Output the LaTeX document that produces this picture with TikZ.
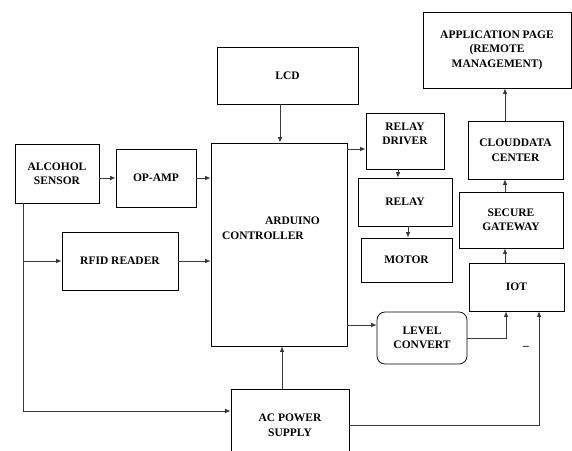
\documentclass[tikz,border=0pt]{standalone}
\usepackage{fontspec}
\setmainfont{Liberation Serif}
\usetikzlibrary{arrows.meta}
\tikzset{
  blk/.style={draw=black, line width=0.75pt, inner sep=0pt, align=center,
    font=\bfseries\fontsize{11.5}{14.5}\selectfont},
  arr/.style={-{Latex[length=5.5pt,width=4.5pt]}, line width=0.75pt, draw=black!78},
  ln/.style={line width=0.75pt, draw=black!78}
}
\begin{document}
\begin{tikzpicture}[x=1pt,y=-1pt]
\useasboundingbox (0,0) rectangle (572,450);
\clip (0,0) rectangle (572,450);
\fill[white] (0,0) rectangle (572,450);
% blocks
\node[blk, minimum width=84pt, minimum height=59pt] (alc) at (57,173.5) {ALCOHOL\\SENSOR};
\node[blk, minimum width=80pt, minimum height=58pt] (opamp) at (156,178) {OP-AMP};
\node[blk, minimum width=116pt, minimum height=58pt] (rfid) at (120,261) {RFID READER};
\node[blk, minimum width=136pt, minimum height=203pt, text width=114pt, align=left, text depth=47pt] (ard) at (279,244.5) {\hspace*{43pt}ARDUINO\\CONTROLLER};
\node[blk, minimum width=141pt, minimum height=57pt] (lcd) at (287.5,75.5) {LCD};
\node[blk, minimum width=78pt, minimum height=56pt, text depth=15pt] (rdrv) at (405,141) {RELAY\\DRIVER};
\node[blk, minimum width=94pt, minimum height=48pt] (relay) at (405,202) {RELAY};
\node[blk, minimum width=91pt, minimum height=44pt] (motor) at (406.5,260) {MOTOR};
\node[blk, rounded corners=8pt, minimum width=90pt, minimum height=52pt] (lvl) at (422,338) {LEVEL\\CONVERT};
\node[blk, minimum width=95pt, minimum height=48pt] (iot) at (516.5,287) {IOT};
\node[blk, minimum width=104pt, minimum height=56pt] (gw) at (511,220) {SECURE\\GATEWAY};
\node[blk, minimum width=95pt, minimum height=58pt] (cloud) at (515.5,150) {CLOUDDATA\\CENTER};
\node[blk, minimum width=148pt, minimum height=76pt] (app) at (497,50) {APPLICATION PAGE\\(REMOTE\\MANAGEMENT)};
\node[blk, minimum width=118pt, minimum height=72pt] (ac) at (290,425) {AC POWER\\SUPPLY};
\node[font=\bfseries\fontsize{11.5}{14.5}\selectfont, inner sep=0pt] (dash) at (526,348) {--};
% helper coordinates
\coordinate (lj) at (23,261);
\coordinate (lc) at (23,411);
\coordinate (y149) at (0,149);
\coordinate (y325) at (0,325);
\coordinate (x280) at (280,0);
\coordinate (x282) at (282,0);
\coordinate (x398) at (398,0);
\coordinate (x408) at (408,0);
\coordinate (x505) at (505,0);
\coordinate (pl) at (506,0);
\coordinate (pa) at (539,0);
% connectors
\draw[arr] (alc.east |- opamp.west) -- (opamp.west);
\draw[arr] (opamp.east) -- (opamp.east -| ard.west);
\draw[ln] (alc.south -| lj) -- (lc);
\draw[arr] (lc) -- (lc -| ac.west);
\draw[arr] (lj) -- (lj -| rfid.west);
\draw[arr] (rfid.east) -- (rfid.east -| ard.west);
\draw[arr] (lcd.south -| x280) -- (ard.north -| x280);
\draw[arr] (ac.north -| x282) -- (ard.south -| x282);
\draw[arr] (ard.east |- y149) -- (rdrv.west |- y149);
\draw[arr] (rdrv.south -| x398) -- (relay.north -| x398);
\draw[arr] (relay.south -| x408) -- (motor.north -| x408);
\draw[arr] (ard.east |- y325) -- (lvl.west |- y325);
\draw[arr] (lvl.east) -| (pl |- iot.south);
\draw[arr] (ac.east) -| (pa |- iot.south);
\draw[arr] (iot.north -| x505) -- (gw.south -| x505);
\draw[arr] (gw.north -| x505) -- (cloud.south -| x505);
\draw[arr] (cloud.north -| x505) -- (app.south -| x505);
\end{tikzpicture}
\end{document}
